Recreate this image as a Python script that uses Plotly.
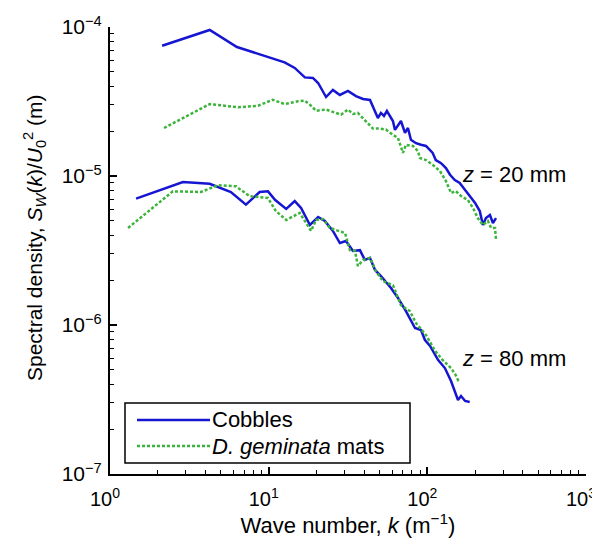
import plotly.graph_objects as go

# ---------------- data ----------------
k_cob_20 = [2.13, 4.25, 6.31, 12.6, 14.6, 16.9, 19.0, 20.5, 23.0, 25.4, 28.1, 31.6, 35.5, 39.3,
            43.5, 46.8, 48.8, 51.0, 53.3, 55.6, 59.0, 60.7, 62.5, 65.3, 68.2, 72.3, 75.5, 78.8,
            84.8, 91.2, 98.0, 104, 108, 113, 122, 131, 139, 149, 160, 173, 185, 200, 214, 224,
            234, 248, 259, 271]
S_cob_20 = [7.49e-5, 9.55e-5, 7.34e-5, 5.79e-5, 5.31e-5, 4.59e-5, 4.55e-5, 4.21e-5, 3.39e-5,
            3.78e-5, 3.50e-5, 3.72e-5, 3.44e-5, 3.29e-5, 3.24e-5, 2.73e-5, 2.45e-5, 2.65e-5,
            2.53e-5, 2.73e-5, 2.45e-5, 2.34e-5, 2.04e-5, 2.17e-5, 2.34e-5, 1.95e-5, 2.10e-5,
            1.75e-5, 1.66e-5, 1.62e-5, 1.59e-5, 1.49e-5, 1.43e-5, 1.28e-5, 1.22e-5, 1.13e-5,
            1.02e-5, 9.40e-6, 8.97e-6, 8.05e-6, 7.34e-6, 6.59e-6, 5.82e-6, 4.69e-6, 5.22e-6,
            5.47e-6, 4.84e-6, 5.22e-6]

k_dg_20 = [2.19, 4.25, 6.41, 8.57, 10.6, 12.6, 15.3, 16.9, 18.2, 19.9, 23.0, 26.2, 28.6, 31.6,
           34.0, 36.5, 39.3, 42.2, 45.4, 50.3, 54.8, 60.7, 65.3, 70.2, 73.3, 81.1, 87.3, 89.8,
           98.0, 108, 120, 131, 141, 151, 163, 180, 194, 208, 224, 241, 252, 267, 271]
S_dg_20 = [2.10e-5, 3.04e-5, 2.89e-5, 2.96e-5, 3.25e-5, 3.04e-5, 3.17e-5, 3.20e-5, 3.01e-5,
           2.74e-5, 2.79e-5, 2.65e-5, 2.58e-5, 2.79e-5, 2.61e-5, 2.65e-5, 2.45e-5, 2.27e-5,
           2.08e-5, 2.08e-5, 2.05e-5, 1.89e-5, 1.80e-5, 1.43e-5, 1.62e-5, 1.59e-5, 1.47e-5,
           1.32e-5, 1.28e-5, 1.19e-5, 1.08e-5, 9.25e-6, 7.69e-6, 7.93e-6, 7.34e-6, 6.90e-6,
           6.10e-6, 5.22e-6, 4.69e-6, 4.99e-6, 4.48e-6, 4.48e-6, 3.72e-6]

k_cob_80 = [1.46, 2.88, 4.25, 5.78, 7.19, 8.77, 9.90, 11.0, 12.9, 14.6, 16.0, 18.2, 20.5, 22.6,
            25.4, 28.1, 30.7, 34.0, 37.6, 40.4, 43.5, 46.8, 51.0, 59.0, 65.3, 73.3, 83.6, 91.2,
            96.6, 104, 117, 129, 141, 149, 156, 163, 173, 185]
S_cob_80 = [7.05e-6, 9.12e-6, 8.87e-6, 7.81e-6, 6.42e-6, 7.81e-6, 7.89e-6, 6.90e-6, 6.01e-6,
            6.79e-6, 6.10e-6, 4.69e-6, 5.31e-6, 4.99e-6, 4.28e-6, 3.55e-6, 3.66e-6, 3.14e-6,
            3.18e-6, 2.73e-6, 2.82e-6, 2.34e-6, 2.13e-6, 1.77e-6, 1.52e-6, 1.24e-6, 9.55e-7,
            9.25e-7, 7.93e-7, 7.23e-7, 5.82e-7, 5.14e-7, 4.21e-7, 3.61e-7, 3.14e-7, 3.34e-7,
            3.09e-7, 3.04e-7]

k_dg_80 = [1.30, 2.49, 3.74, 4.79, 6.22, 7.59, 9.90, 11.1, 12.9, 15.7, 17.2, 18.5, 19.9, 22.0,
           24.3, 27.3, 30.3, 32.5, 35.0, 36.5, 39.3, 43.5, 47.4, 52.5, 60.7, 68.2, 77.6, 84.8,
           98.0, 112, 125, 141, 151, 156, 160]
S_dg_80 = [4.48e-6, 7.89e-6, 7.81e-6, 8.67e-6, 8.53e-6, 7.31e-6, 7.12e-6, 5.82e-6, 5.07e-6,
           5.65e-6, 4.84e-6, 4.28e-6, 5.07e-6, 5.14e-6, 4.48e-6, 4.28e-6, 4.14e-6, 3.18e-6,
           3.14e-6, 2.49e-6, 2.73e-6, 2.82e-6, 2.30e-6, 1.97e-6, 1.85e-6, 1.36e-6, 1.24e-6,
           1.03e-6, 8.57e-7, 6.70e-7, 5.82e-7, 5.14e-7, 4.61e-7, 4.28e-7, 4.40e-7]

series_names = ["Cobbles", "<i>D. geminata</i> mats"]
x_tick_vals = [1, 10, 100, 1000]
x_tick_text = ["10<sup>0</sup>", "10<sup>1</sup>", "10<sup>2</sup>", "10<sup>3</sup>"]
y_tick_vals = [1e-7, 1e-6, 1e-5, 1e-4]
y_tick_text = ["10<sup>−7</sup>", "10<sup>−6</sup>", "10<sup>−5</sup>", "10<sup>−4</sup>"]
x_minor = [m * 10 ** d for d in range(0, 3) for m in range(2, 10)]
y_minor = [m * 10.0 ** d for d in range(-7, -4) for m in range(2, 10)]

# ---------------- style ----------------
BLUE = "rgb(22,22,210)"
GREEN = "rgb(60,180,60)"
FONT = "Liberation Sans, Arial, Helvetica, sans-serif"
FS = 21

fig = go.Figure()
for kx, sy in [(k_cob_20, S_cob_20), (k_cob_80, S_cob_80)]:
    fig.add_trace(go.Scatter(x=kx, y=sy, mode="lines", showlegend=False,
                             line=dict(color=BLUE, width=2.5)))
for kx, sy in [(k_dg_20, S_dg_20), (k_dg_80, S_dg_80)]:
    fig.add_trace(go.Scatter(x=kx, y=sy, mode="lines", showlegend=False,
                             line=dict(color=GREEN, width=2.5, dash="3px,2px")))

axis_common = dict(type="log", showgrid=False, zeroline=False, showline=True,
                   linecolor="black", linewidth=2, ticks="inside", ticklen=7,
                   tickwidth=1.5, tickcolor="black", mirror=False)

fig.update_xaxes(range=[0, 3], tickvals=x_tick_vals, ticktext=x_tick_text,
                 tickfont=dict(family=FONT, size=20, color="black"),
                 minor=dict(tickvals=x_minor, ticks="inside", ticklen=4,
                            tickwidth=1.2, tickcolor="black", showgrid=False),
                 title=dict(text="Wave number, <i>k</i> (m<sup>−1</sup>)",
                            font=dict(family=FONT, size=22, color="black"), standoff=2),
                 ticklabelstandoff=6, ticklabelshift=-5, **axis_common)
fig.update_yaxes(range=[-7, -4], tickvals=y_tick_vals, ticktext=y_tick_text,
                 tickfont=dict(family=FONT, size=FS, color="black"),
                 minor=dict(tickvals=y_minor, ticks="inside", ticklen=4,
                            tickwidth=1.2, tickcolor="black", showgrid=False),
                 ticklabelstandoff=2, **axis_common)

L, R, T, B = 102, 22, 19, 74
W, H = 600, 540
pw, ph = W - L - R, H - T - B

def px(xp):
    return (xp - L) / pw

def py(yp):
    return 1 - (yp - T) / ph

ann_font = dict(family=FONT, size=22, color="black")
annotations = [
    dict(x=px(26), y=py(230), xref="paper", yref="paper", textangle=-90, showarrow=False,
         text="Spectral density, <i>S</i><sub><i>W</i></sub>(<i>k</i>)/<i>U</i><sub>0</sub><sup>2</sup> (m)",
         font=dict(family=FONT, size=21, color="black"), xanchor="center", yanchor="middle"),
    dict(x=px(452), y=py(166), xref="paper", yref="paper", showarrow=False,
         text="<i>z</i> = 20 mm", font=ann_font, xanchor="left", yanchor="middle"),
    dict(x=px(452), y=py(350), xref="paper", yref="paper", showarrow=False,
         text="<i>z</i> = 80 mm", font=ann_font, xanchor="left", yanchor="middle"),
    dict(x=px(202), y=py(411), xref="paper", yref="paper", showarrow=False,
         text=series_names[0], font=ann_font, xanchor="left", yanchor="middle"),
    dict(x=px(202), y=py(438), xref="paper", yref="paper", showarrow=False,
         text=series_names[1], font=ann_font, xanchor="left", yanchor="middle"),
]
shapes = [
    dict(type="rect", xref="paper", yref="paper", x0=px(117), x1=px(402), y0=py(455), y1=py(395),
         line=dict(color="black", width=1.5), fillcolor="white", layer="above"),
    dict(type="line", xref="paper", yref="paper", x0=px(129), x1=px(202), y0=py(412), y1=py(412),
         line=dict(color=BLUE, width=2.5), layer="above"),
    dict(type="line", xref="paper", yref="paper", x0=px(129), x1=px(202), y0=py(438), y1=py(438),
         line=dict(color=GREEN, width=2.5, dash="3px,2px"), layer="above"),
]

fig.update_layout(width=W, height=H, margin=dict(l=L, r=R, t=T, b=B, autoexpand=False),
                  paper_bgcolor="white", plot_bgcolor="white",
                  font=dict(family=FONT, size=FS, color="black"),
                  annotations=annotations, shapes=shapes, showlegend=False)

fig.write_html("out.html")
